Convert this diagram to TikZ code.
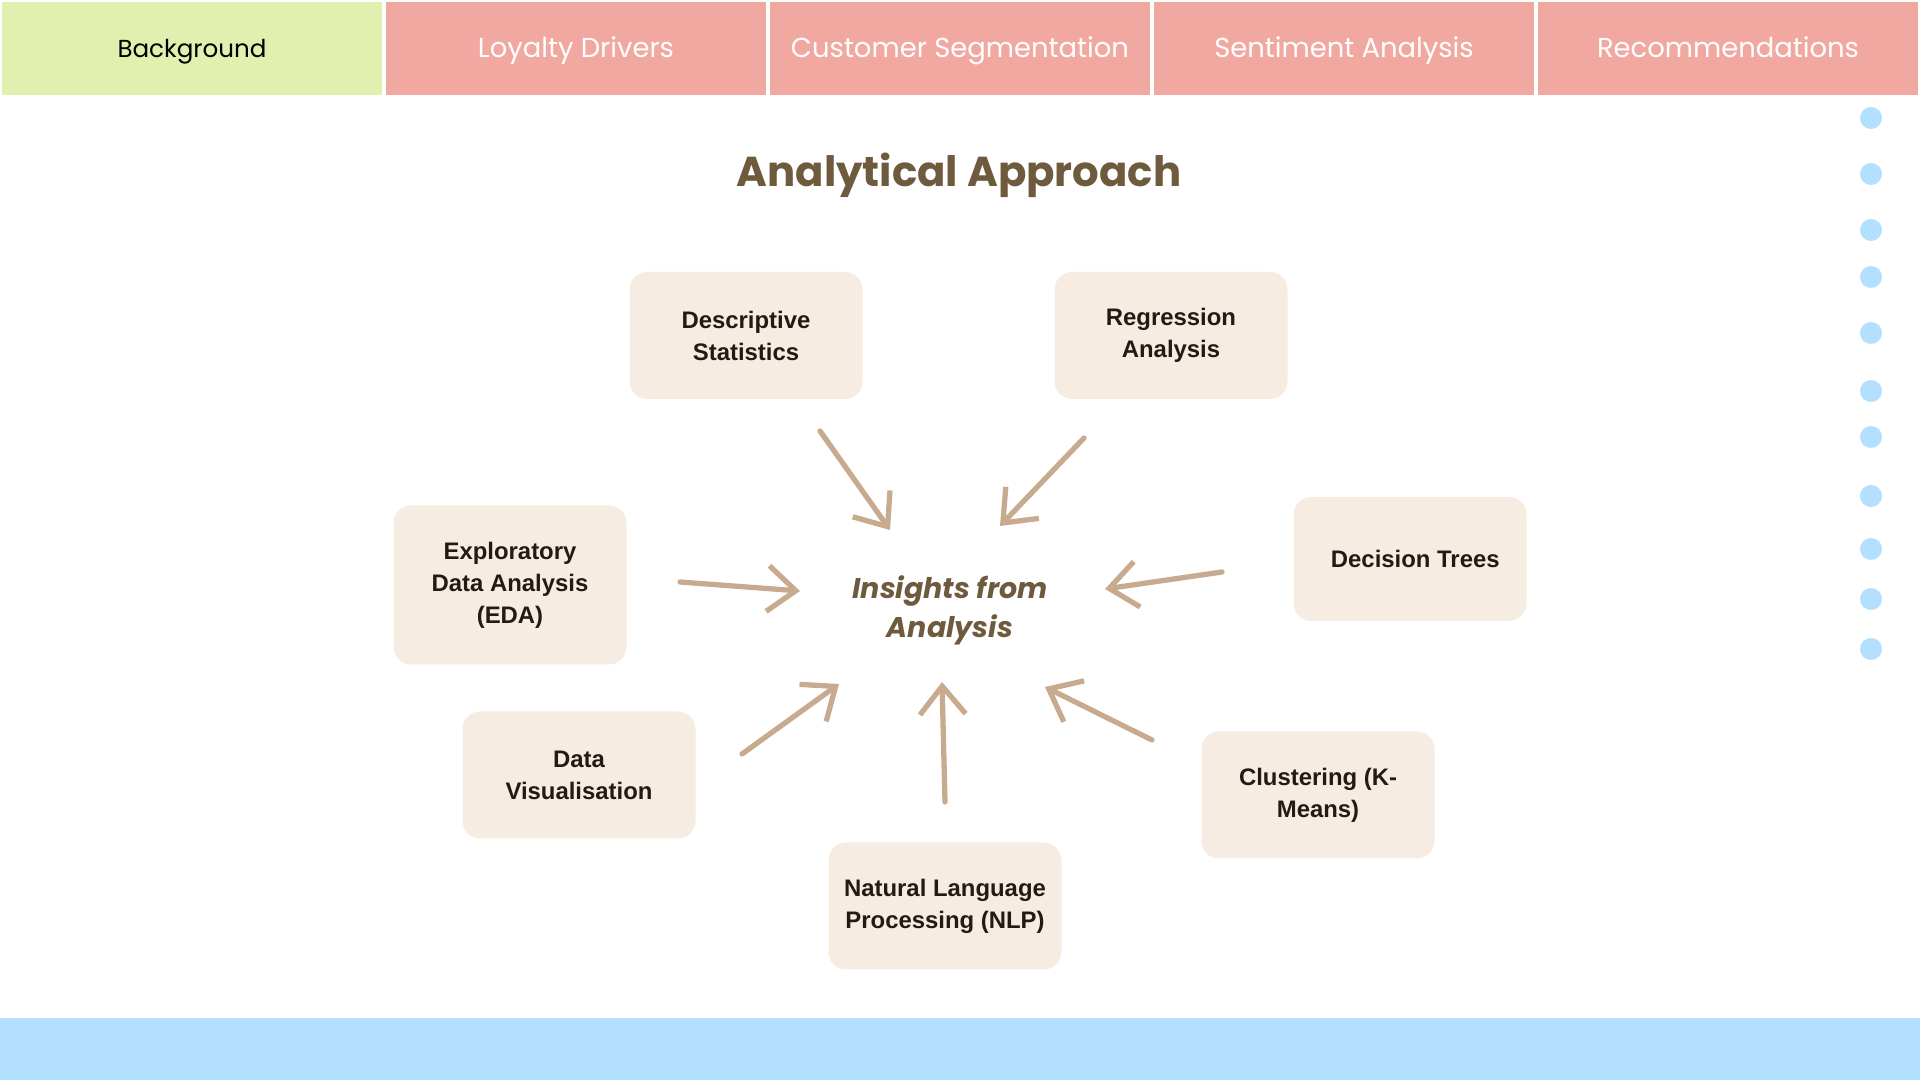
\documentclass[tikz,border=0pt]{standalone}
\usepackage{fontspec}
\setmainfont{Liberation Sans}
\newfontfamily\poppins{Poppins}
\usetikzlibrary{arrows.meta}

\definecolor{tabgreen}{HTML}{E1EFAF}
\definecolor{tabpink}{HTML}{F0A8A0}
\definecolor{boxfill}{HTML}{F7ECE2}
\definecolor{brushtan}{HTML}{C8AB8E}
\definecolor{titlebrown}{HTML}{6E5A3D}
\definecolor{skyblue}{HTML}{B3E0FF}
\definecolor{inkdark}{HTML}{231B13}

\begin{document}
\begin{tikzpicture}[
  tabbox/.style={minimum width=3.80cm, minimum height=0.93cm, inner sep=0pt,
    text height=0.72em, text depth=0.2em,
    font=\poppins\fontsize{7.8}{9}\selectfont, text=white, fill=tabpink},
  method/.style={fill=boxfill, rounded corners=5pt, minimum width=2.33cm,
    minimum height=1.27cm, align=center, text=inkdark,
    font=\bfseries\fontsize{6.8}{9.1}\selectfont},
  brush/.style={draw=brushtan, line width=1.5pt, line cap=round,
    -{Straight Barb[length=8pt,width=13pt,line width=1.5pt]}},
]
\useasboundingbox (0,0) rectangle (19.2,10.8);
\fill[white] (0,0) rectangle (19.2,10.8);

% Top tabs
\node[tabbox, fill=tabgreen, text=black, font=\poppins\fontsize{7.0}{9}\selectfont] (tab1) at (1.92,10.315) {Background};
\node[tabbox] (tab2) at (5.76,10.315) {Loyalty Drivers};
\node[tabbox] (tab3) at (9.60,10.315) {Customer Segmentation};
\node[tabbox] (tab4) at (13.44,10.315) {Sentiment Analysis};
\node[tabbox] (tab5) at (17.28,10.315) {Recommendations};

% Title
\node[font=\poppins\bfseries\fontsize{11.9}{15}\selectfont, text=titlebrown] (title) at (9.59,9.05) {Analytical Approach};

% Centre
\node[font=\poppins\bfseries\itshape\fontsize{8.1}{11.1}\selectfont, text=titlebrown, align=center] (insight) at (9.50,4.70) {Insights from\\Analysis};

% Methods
\node[method] (desc) at (7.46,7.445) {Descriptive\\Statistics};
\node[method] (regr) at (11.71,7.445) {Regression\\Analysis};
\node[method, minimum height=1.59cm] (eda) at (5.10,4.95) {Exploratory\\Data Analysis\\(EDA)};
\node[method, minimum height=1.24cm] (tree) at (14.10,5.21) {\hspace{3pt}Decision Trees};
\node[method] (dvis) at (5.79,3.05) {Data\\Visualisation};
\node[method] (nlp) at (9.45,1.74) {Natural Language\\Processing (NLP)};
\node[method] (clus) at (13.18,2.85) {Clustering (K-\\Means)};

% Arrow ends
\coordinate (descA) at (8.20,6.49);  \coordinate (descB) at (8.90,5.50);
\coordinate (regrA) at (10.84,6.42); \coordinate (regrB) at (10.00,5.54);
\coordinate (edaA) at (6.80,4.98);   \coordinate (edaB) at (8.00,4.89);
\coordinate (treeA) at (12.22,5.08); \coordinate (treeB) at (11.05,4.91);
\coordinate (dvisA) at (7.42,3.26);  \coordinate (dvisB) at (8.39,3.96);
\coordinate (nlpA) at (9.45,2.78);   \coordinate (nlpB) at (9.42,3.98);
\coordinate (clusA) at (11.52,3.40); \coordinate (clusB) at (10.45,3.93);

% Brush arrows
\draw[brush] (descA) -- (descB);
\draw[brush] (regrA) -- (regrB);
\draw[brush] (edaA) -- (edaB);
\draw[brush] (treeA) -- (treeB);
\draw[brush] (dvisA) -- (dvisB);
\draw[brush] (nlpA) -- (nlpB);
\draw[brush] (clusA) -- (clusB);

% Dots on the right
\foreach \y in {9.62,9.06,8.50,8.03,7.47,6.89,6.43,5.84,5.31,4.81,4.31}
  \fill[skyblue] (18.71,\y) circle (0.11);

% Bottom band
\fill[skyblue] (0,0) rectangle (19.2,0.62);
\end{tikzpicture}
\end{document}
